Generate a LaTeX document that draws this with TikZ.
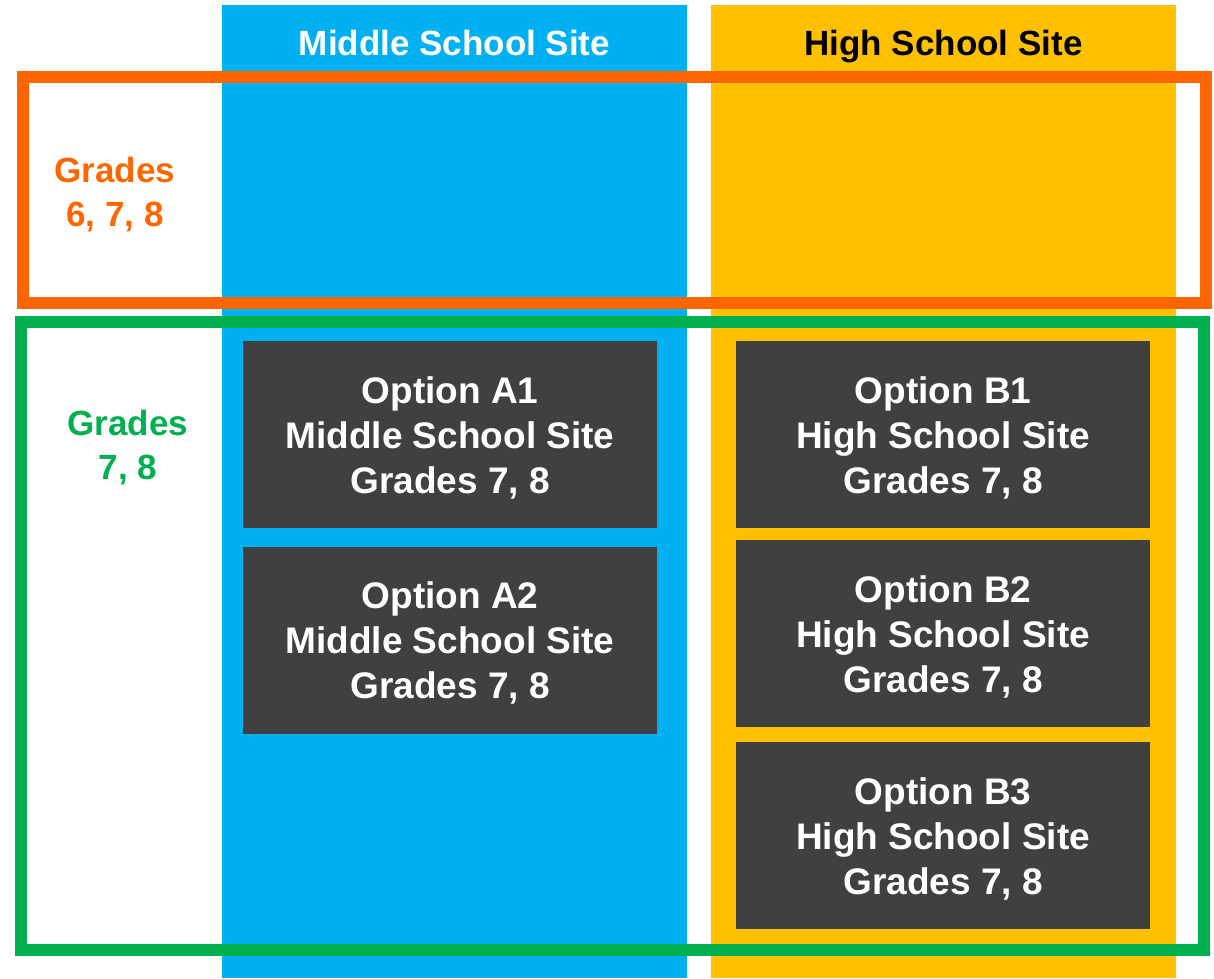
\documentclass[tikz,border=0pt]{standalone}
\usepackage{fontspec}
\setmainfont{Liberation Sans}
\definecolor{msblue}{HTML}{00B0F0}
\definecolor{hsyellow}{HTML}{FFC000}
\definecolor{gorange}{HTML}{FF6600}
\definecolor{ggreen}{HTML}{00B050}
\definecolor{boxgray}{HTML}{404040}
\tikzset{
  column/.style={fill=#1, draw=none},
  header/.style={font=\fontsize{35}{42}\selectfont\bfseries, anchor=base},
  optbox/.style={fill=boxgray, draw=none},
  opttext/.style={font=\fontsize{37}{45}\selectfont\bfseries, text=white, align=center, anchor=center},
  gradeframe/.style={draw=#1, line width=12pt},
  gradelabel/.style={font=\fontsize{35}{44}\selectfont\bfseries, text=#1, align=center, anchor=center}
}
\begin{document}
\begin{tikzpicture}[x=1pt,y=-1pt]
\useasboundingbox (0,0) rectangle (1214,978);
\fill[white] (0,0) rectangle (1214,978);
% columns
\path[column=msblue] (222,5) rectangle (687,978);
\path[column=hsyellow] (711,5) rectangle (1176,978);
\node[header, text=white] (mshead) at (454.5,55.5) {Middle School Site};
\node[header, text=black] (hshead) at (943.5,55.5) {High School Site};
% option boxes
\path[optbox] (243,341) rectangle (657,528);
\node[opttext] (a1) at (450,438) {Option A1\\Middle School Site\\Grades 7, 8};
\path[optbox] (243,547) rectangle (657,734);
\node[opttext] (a2) at (450,643) {Option A2\\Middle School Site\\Grades 7, 8};
\path[optbox] (736,341) rectangle (1150,528);
\node[opttext] (b1) at (943,438) {Option B1\\High School Site\\Grades 7, 8};
\path[optbox] (736,540) rectangle (1150,727);
\node[opttext] (b2) at (943,637) {Option B2\\High School Site\\Grades 7, 8};
\path[optbox] (736,742) rectangle (1150,929);
\node[opttext] (b3) at (943,839) {Option B3\\High School Site\\Grades 7, 8};
% grade frames
\draw[gradeframe=gorange] (23,77) rectangle (1206,303);
\draw[gradeframe=ggreen] (21,322) rectangle (1204,949.5);
\node[gradelabel=gorange] (g678) at (115,195) {Grades\\6, 7, 8};
\node[gradelabel=ggreen] (g78) at (128,448) {Grades\\7, 8};
\end{tikzpicture}
\end{document}
